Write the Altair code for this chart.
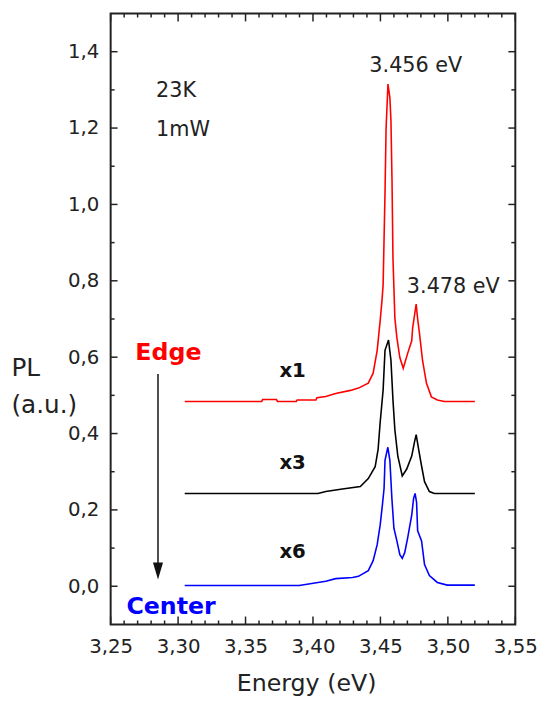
import altair as alt
import pandas as pd

# ---------------- data ----------------
# Edge spectrum (x1)
edge_E = [3.3049, 3.3620, 3.3627, 3.3729, 3.3737, 3.3876, 3.3883, 3.4022, 3.4029, 3.4095,
          3.4168, 3.4278, 3.4337, 3.4410, 3.4446, 3.4476, 3.4498, 3.4512, 3.4520, 3.4534,
          3.4542, 3.4556, 3.4570, 3.4578, 3.4586, 3.4593, 3.4607, 3.4622, 3.4644, 3.4669,
          3.4702, 3.4732, 3.4739, 3.4754, 3.4765, 3.4776, 3.4790, 3.4812, 3.4841, 3.4878,
          3.4922, 3.4973, 3.5200]
edge_I = [0.484, 0.484, 0.489, 0.489, 0.484, 0.484, 0.488, 0.488, 0.494, 0.497,
          0.505, 0.513, 0.519, 0.532, 0.558, 0.618, 0.695, 0.750, 0.790, 1.030,
          1.200, 1.315, 1.280, 1.220, 1.060, 0.860, 0.703, 0.651, 0.599, 0.571,
          0.610, 0.643, 0.677, 0.713, 0.739, 0.700, 0.661, 0.592, 0.532, 0.496,
          0.488, 0.484, 0.484]

# intermediate spectrum (x3)
mid_E = [3.3049, 3.4037, 3.4095, 3.4205, 3.4351, 3.4410, 3.4461, 3.4483, 3.4498, 3.4520,
         3.4534, 3.4560, 3.4578, 3.4593, 3.4607, 3.4629, 3.4662, 3.4695, 3.4732, 3.4754,
         3.4765, 3.4783, 3.4805, 3.4827, 3.4863, 3.4900, 3.5200]
mid_I = [0.243, 0.243, 0.248, 0.254, 0.261, 0.282, 0.313, 0.359, 0.429, 0.514,
         0.618, 0.645, 0.592, 0.488, 0.410, 0.341, 0.289, 0.307, 0.341, 0.380,
         0.397, 0.359, 0.315, 0.274, 0.248, 0.243, 0.243]

# Center spectrum (x6)
center_E = [3.3049, 3.3898, 3.4095, 3.4168, 3.4293, 3.4337, 3.4410, 3.4446, 3.4476, 3.4498,
            3.4512, 3.4527, 3.4534, 3.4555, 3.4570, 3.4585, 3.4600, 3.4622, 3.4644, 3.4662,
            3.4680, 3.4702, 3.4732, 3.4746, 3.4757, 3.4768, 3.4776, 3.4805, 3.4827, 3.4863,
            3.4922, 3.4995, 3.5200]
center_I = [0.002, 0.002, 0.013, 0.020, 0.023, 0.026, 0.041, 0.067, 0.109, 0.160,
            0.204, 0.256, 0.330, 0.364, 0.330, 0.230, 0.152, 0.119, 0.083, 0.073,
            0.088, 0.127, 0.186, 0.230, 0.243, 0.220, 0.145, 0.119, 0.057, 0.028,
            0.010, 0.003, 0.003]

series_names = ["Edge", "x3", "Center"]
series_colors = ["#ff0000", "#000000", "#0000ff"]

# axis ticks
x_major = [3.25, 3.30, 3.35, 3.40, 3.45, 3.50, 3.55]
x_minor = [round(3.25 + 0.01 * i, 2) for i in range(1, 30) if i % 5 != 0]
y_major = [0.0, 0.2, 0.4, 0.6, 0.8, 1.0, 1.2, 1.4]
y_minor = [0.1, 0.3, 0.5, 0.7, 0.9, 1.1, 1.3]

# annotations
plain_text = ["23K", "1mW"]
plain_E = [3.2837, 3.2837]
plain_I = [1.282, 1.178]
peak_text = ["3.456 eV", "3.478 eV"]
peak_E = [3.4762, 3.5040]
peak_I = [1.346, 0.767]
side_text = ["Edge", "Center"]
side_E = [3.2683, 3.2617]
side_I = [0.592, -0.072]
side_colors = ["#ff0000", "#0000ff"]
factor_text = ["x1", "x3", "x6"]
factor_E = [3.3751, 3.3751, 3.3751]
factor_I = [0.548, 0.308, 0.075]
arrow_E = [3.2851]
arrow_top = [0.556]
arrow_bottom = [0.040]

# ---------------- chart ----------------
FONT = "DejaVu Sans"
W, H = 410, 619
TXT = "#222222"

xs = alt.Scale(domain=[3.25, 3.55], nice=False, zero=False)
ys = alt.Scale(domain=[-0.1, 1.5], nice=False, zero=False)

rows = []
for name, E, I in [("Edge", edge_E, edge_I), ("x3", mid_E, mid_I), ("Center", center_E, center_I)]:
    for i, (e, v) in enumerate(zip(E, I)):
        rows.append({"E": e, "I": v, "series": name, "order": i})
spec_df = pd.DataFrame(rows)

x_axis = alt.Axis(values=x_major,
                  labelExpr="replace(format(datum.value, '.2f'), '.', ',')",
                  ticks=False, tickSize=0, domain=False, grid=False,
                  labelPadding=12, labelFont=FONT, labelFontSize=20, labelColor=TXT,
                  labelFlush=False, labelOverlap=False,
                  title="Energy (eV)", titleFont=FONT, titleFontSize=24,
                  titleFontWeight="normal", titleColor=TXT, titleBaseline="top",
                  titleY=48, titleX=198)
y_axis = alt.Axis(values=y_major,
                  labelExpr="replace(format(datum.value, '.1f'), '.', ',')",
                  ticks=False, tickSize=0, domain=False, grid=False,
                  labelPadding=12, labelFont=FONT, labelFontSize=20, labelColor=TXT,
                  labelFlush=False, labelOverlap=False,
                  title=["PL", "(a.u.)"], titleFont=FONT, titleFontSize=25,
                  titleFontWeight="normal", titleColor=TXT, titleAngle=0,
                  titleAlign="left", titleBaseline="top", titleX=-101, titleY=347,
                  titleLineHeight=37)

X = lambda f: alt.X(f, scale=xs, axis=x_axis)
Y = lambda f: alt.Y(f, scale=ys, axis=y_axis)

lines = alt.Chart(spec_df).mark_line(strokeWidth=1.6, interpolate="linear").encode(
    x=X("E:Q"),
    y=Y("I:Q"),
    color=alt.Color("series:N", scale=alt.Scale(domain=series_names, range=series_colors), legend=None),
    order="order:Q",
)

def xticks(vals, length):
    df = pd.DataFrame({"v": vals})
    bottom = alt.Chart(df).mark_rule(color="#222", strokeWidth=1.5).encode(
        x=X("v:Q"), y=alt.value(H), y2=alt.value(H - length))
    top = alt.Chart(df).mark_rule(color="#222", strokeWidth=1.5).encode(
        x=X("v:Q"), y=alt.value(0), y2=alt.value(length))
    return [bottom, top]

def yticks(vals, length):
    df = pd.DataFrame({"v": vals})
    left = alt.Chart(df).mark_rule(color="#222", strokeWidth=1.5).encode(
        y=Y("v:Q"), x=alt.value(0), x2=alt.value(length))
    right = alt.Chart(df).mark_rule(color="#222", strokeWidth=1.5).encode(
        y=Y("v:Q"), x=alt.value(W), x2=alt.value(W - length))
    return [left, right]

tick_layers = xticks(x_major, 8) + xticks(x_minor, 4) + yticks(y_major, 7) + yticks(y_minor, 4)

plain_df = pd.DataFrame({"E": plain_E, "I": plain_I, "t": plain_text})
plain = alt.Chart(plain_df).mark_text(font=FONT, fontSize=21, color=TXT, align="left",
                                      baseline="alphabetic").encode(
    x=X("E:Q"), y=Y("I:Q"), text="t:N")

peak_df = pd.DataFrame({"E": peak_E, "I": peak_I, "t": peak_text})
peaks = alt.Chart(peak_df).mark_text(font=FONT, fontSize=21, color=TXT, align="center",
                                     baseline="alphabetic").encode(
    x=X("E:Q"), y=Y("I:Q"), text="t:N")

side_df = pd.DataFrame({"E": side_E, "I": side_I, "t": side_text, "c": side_colors})
sides = alt.Chart(side_df).mark_text(font=FONT, fontSize=24, fontWeight="bold", align="left",
                                     baseline="alphabetic").encode(
    x=X("E:Q"), y=Y("I:Q"), text="t:N",
    color=alt.Color("c:N", scale=None))

factor_df = pd.DataFrame({"E": factor_E, "I": factor_I, "t": factor_text})
factors = alt.Chart(factor_df).mark_text(font=FONT, fontSize=20, fontWeight="bold", color="#111",
                                         align="left", baseline="alphabetic").encode(
    x=X("E:Q"), y=Y("I:Q"), text="t:N")

arrow_df = pd.DataFrame({"E": arrow_E, "top": arrow_top, "bottom": arrow_bottom})
arrow_line = alt.Chart(arrow_df).mark_rule(color="#111", strokeWidth=1.5).encode(
    x=X("E:Q"), y=Y("top:Q"), y2="bottom:Q")
arrow_head = alt.Chart(arrow_df).mark_point(shape="M -0.6 -1 L 0.6 -1 L 0 1 Z", size=289,
                                            filled=True, color="#111", opacity=1).encode(
    x=X("E:Q"), y=Y("bottom:Q"))

chart = alt.layer(lines, *tick_layers, plain, peaks, sides, factors, arrow_line, arrow_head).properties(
    width=W, height=H,
    autosize=alt.AutoSizeParams(type="none"),
    padding={"left": 104, "top": 1, "right": 24, "bottom": 76},
    background="white",
).configure_view(stroke="#222", strokeWidth=2)

chart.save("out.html", embed_options={"renderer": "svg", "actions": False})
